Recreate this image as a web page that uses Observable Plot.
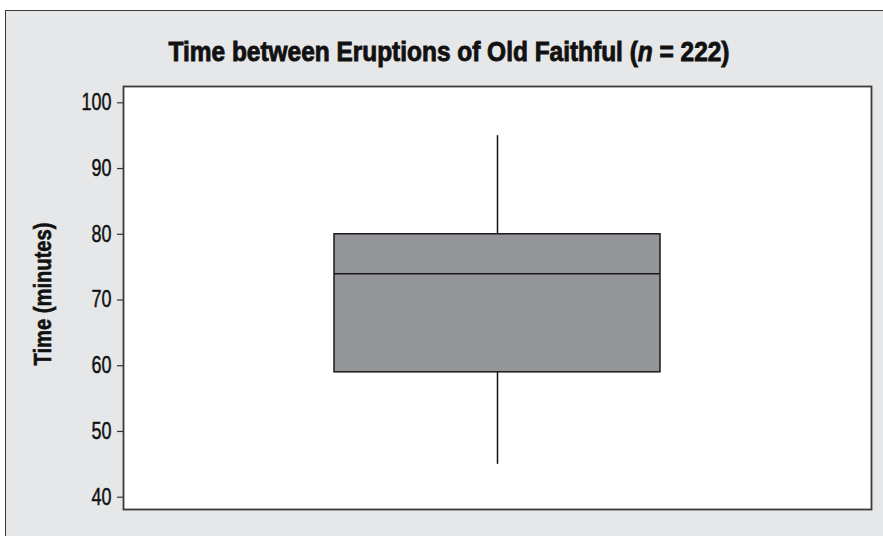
<!DOCTYPE html>
<html>
<head>
<meta charset="utf-8">
<script src="https://cdn.jsdelivr.net/npm/d3@7"></script>
<script src="https://cdn.jsdelivr.net/npm/@observablehq/plot@0.6"></script>
<style>
  html, body { margin: 0; padding: 0; background: #ffffff; width: 883px; height: 536px; overflow: hidden; }
  #panel { position: absolute; left: 5px; top: 10px; width: 890px; height: 540px; background: #e6e7e8;
           border-left: 1.5px solid #3a3a3a; border-top: 1.5px solid #3a3a3a; }
  .cond { font-family: "Liberation Sans", Arial, sans-serif; color: #111; line-height: 1; white-space: nowrap; position: absolute; }
  #title { left: 449px; top: 37.5px; font-weight: bold; font-size: 27.5px; -webkit-text-stroke: 0.9px #111; }
  #ylabel { left: 43px; top: 294px; font-weight: bold; font-size: 24px; -webkit-text-stroke: 0.6px #111; }
  #chart { position: absolute; left: 0; top: 70px; }
</style>
</head>
<body>
<div id="panel"></div>
<span id="title" class="cond">Time between Eruptions of Old Faithful (<i>n</i> = 222)</span>
<span id="ylabel" class="cond">Time (minutes)</span>
<div id="chart"></div>
<script>
// Summary of the box plot (minutes)
const groups = ["Old Faithful"];
const whiskerLow = [45];
const q1 = [59];
const median = [74];
const q3 = [80];
const whiskerHigh = [95];
const yTicks = [40, 50, 60, 70, 80, 90, 100];

const stats = groups.map((g, i) => ({
  group: g, lo: whiskerLow[i], q1: q1[i], med: median[i], q3: q3[i], hi: whiskerHigh[i]
}));

const chart = Plot.plot({
  width: 883,
  height: 466,
  marginLeft: 123,
  marginRight: 12,
  marginTop: 16,
  marginBottom: 27,
  style: { fontFamily: '"Liberation Sans", Arial, sans-serif', fontSize: "23.3px", color: "#111", background: "transparent" },
  x: { domain: groups, padding: 0.392, axis: null },
  y: { domain: [38.13, 102.48], ticks: yTicks, tickSize: 6, label: null },
  marks: [
    Plot.frame({ fill: "white", stroke: "none" }),
    Plot.ruleX(stats, { x: "group", y1: "lo", y2: "q1", stroke: "#111", strokeWidth: 1.5 }),
    Plot.ruleX(stats, { x: "group", y1: "q3", y2: "hi", stroke: "#111", strokeWidth: 1.5 }),
    Plot.barY(stats, { x: "group", y1: "q1", y2: "q3", fill: "#939598", stroke: "#1a1a1a", strokeWidth: 1.5 }),
    Plot.tickY(stats, { x: "group", y: "med", stroke: "#1a1a1a", strokeWidth: 1.5 }),
    Plot.axisY({ ticks: yTicks, tickSize: 6, tickPadding: 6, stroke: "#333", strokeWidth: 1.2, label: null }),
    Plot.frame({ stroke: "#3a3a3a", strokeWidth: 1.8 })
  ]
});
document.getElementById("chart").appendChild(chart);

// Condense tick labels horizontally (mimic a condensed typeface) around their anchor point
chart.querySelectorAll('g[aria-label="y-axis tick label"] text').forEach(t => {
  const x = +(t.getAttribute("x") || 0);
  const tr = t.getAttribute("transform") || "";
  t.setAttribute("transform", `${tr} translate(${x},0) scale(0.77,1) translate(${-x},0)`);
  t.setAttribute("stroke", "#111");
  t.setAttribute("stroke-width", "0.45");
});

// Fit HTML texts to the condensed widths of the reference
function fit(id, target, rotate) {
  const el = document.getElementById(id);
  const w = el.getBoundingClientRect().width;
  const s = target / w;
  el.style.transformOrigin = "50% 50%";
  el.style.transform = rotate
    ? `translate(-50%, -50%) rotate(-90deg) scaleX(${s})`
    : `translateX(-50%) scaleX(${s})`;
}
fit("title", 561, false);
fit("ylabel", 143, true);
</script>
</body>
</html>
